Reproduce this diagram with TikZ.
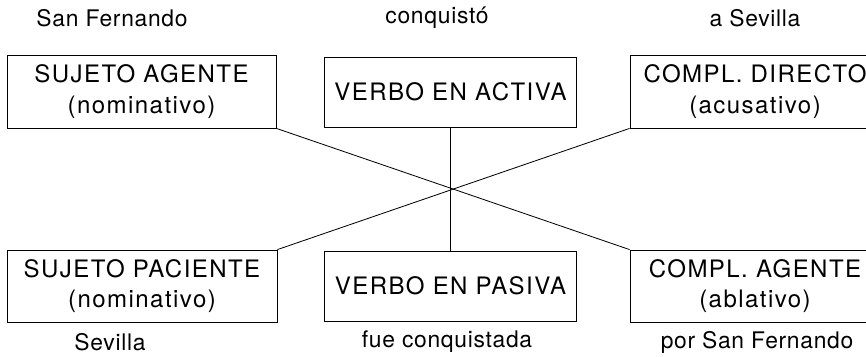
\documentclass[tikz,border=0pt]{standalone}
\usepackage{fontspec}
\setmainfont{TeX Gyre Heros}
\newfontfamily\boxfont[LetterSpace=6]{TeX Gyre Heros}
\newfontfamily\labelfont[LetterSpace=3]{TeX Gyre Heros}
\tikzset{
    casebox/.style={draw,line width=0.7pt,align=center,inner sep=0pt,
        font=\boxfont\fontsize{20.5}{26}\selectfont},
    caselabel/.style={inner sep=0pt,font=\labelfont\fontsize{19.5}{22}\selectfont}
}
\begin{document}
\begin{tikzpicture}[x=0.3mm,y=0.3mm]
    \clip (0,0) rectangle (866,-357);
    %active sentence
    \node[casebox,minimum width=80.7mm,minimum height=21.9mm] (sa) at (141.5,-91.5) {SUJETO AGENTE\\(nominativo)};
    \node[casebox,minimum width=75.6mm,minimum height=21mm] (va) at (450.5,-92) {VERBO EN ACTIVA};
    \node[casebox,minimum width=75mm,minimum height=21.9mm] (cd) at (755,-91.5) {COMPL. DIRECTO\\(acusativo)};
    \node[caselabel] (sa-lbl) at (112,-18) {San Fernando};
    \node[caselabel] (va-lbl) at (437,-18) {conquistó};
    \node[caselabel] (cd-lbl) at (755,-18) {a Sevilla};
    %passive sentence
    \node[casebox,minimum width=81mm,minimum height=21.6mm] (sp) at (142,-286) {SUJETO PACIENTE\\(nominativo)};
    \node[casebox,minimum width=75.6mm,minimum height=21mm] (vp) at (450.5,-286) {VERBO EN PASIVA};
    \node[casebox,minimum width=75mm,minimum height=21.6mm] (ca) at (755,-286) {COMPL. AGENTE\\(ablativo)};
    \node[caselabel] (sp-lbl) at (110,-342) {Sevilla};
    \node[caselabel] (vp-lbl) at (447,-342) {fue conquistada};
    \node[caselabel] (ca-lbl) at (757,-342) {por San Fernando};
    %draw lines
    \draw[line width=0.7pt] (sa.south east) -- (ca.north west);
    \draw[line width=0.7pt] (sp.north east) -- (cd.south west);
    \draw[line width=0.7pt] (va.south) -- (vp.north);
\end{tikzpicture}
\end{document}
